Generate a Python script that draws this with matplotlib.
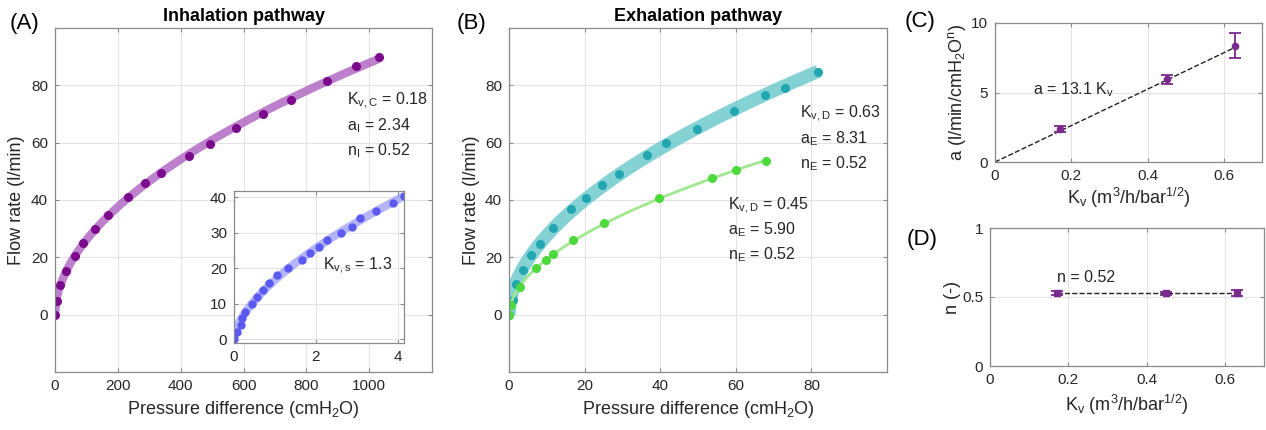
import matplotlib
matplotlib.use('Agg')
import matplotlib.pyplot as plt
import numpy as np

plt.rcParams['font.family'] = ['Liberation Sans', 'DejaVu Sans']
plt.rcParams['mathtext.fontset'] = 'custom'
plt.rcParams['mathtext.rm'] = 'Liberation Sans'
plt.rcParams['mathtext.it'] = 'Liberation Sans'
plt.rcParams['mathtext.default'] = 'regular'

# (A) inhalation pathway, pressure difference (cmH2O) vs flow rate (l/min)
inh_dp = np.array([0, 5, 16, 35, 63, 90, 128, 170, 232, 287, 336, 426, 492,
                   576, 661, 752, 866, 959, 1030])
inh_q = np.array([0, 4.9, 10.2, 15.1, 20.5, 25.0, 29.9, 34.8, 41.2, 45.8, 49.5,
                  55.4, 59.7, 65.0, 70.0, 75.0, 81.4, 86.8, 89.9])

# inset: Kv,s = 1.3
ins_dp = np.array([0, 0.07, 0.16, 0.2, 0.26, 0.45, 0.55, 0.71, 0.86, 1.06, 1.31,
                   1.66, 1.86, 2.07, 2.26, 2.6, 2.87, 3.08, 3.47, 3.87, 4.15])
ins_q = np.array([0, 2.0, 4.0, 5.9, 7.6, 10.0, 11.9, 13.9, 15.9, 18.1, 20.2,
                  22.3, 24.2, 26.0, 28.0, 29.9, 31.7, 34.0, 36.0, 38.2, 40.3])

# (B) exhalation pathway, Kv,D = 0.63
exh1_dp = np.array([0, 1.0, 1.9, 3.6, 5.9, 8.1, 11.7, 16.5, 20.4, 24.6, 29.1,
                    36.6, 41.6, 49.8, 59.5, 67.6, 73.1, 81.8])
exh1_q = np.array([0, 5.0, 10.8, 15.7, 20.9, 24.8, 30.4, 36.9, 40.8, 45.2, 48.9,
                   55.7, 59.9, 64.9, 71.2, 76.8, 79.1, 84.6])
# Kv,D = 0.45
exh2_dp = np.array([0, 0.6, 2.9, 7.1, 9.7, 11.7, 16.9, 25.2, 39.6, 53.6, 60.1, 68.1])
exh2_q = np.array([0, 3.4, 9.6, 16.2, 19.1, 21.2, 25.9, 31.9, 40.6, 47.7, 50.4, 53.5])

# (C), (D) fitted coefficients vs Kv
kv = np.array([0.17, 0.45, 0.63])
a_mean = np.array([2.37, 5.95, 8.38])
a_err = np.array([0.22, 0.33, 0.9])
a_slope = 13.1
n_mean = np.array([0.526, 0.526, 0.526])
n_err = np.array([0.014, 0.011, 0.022])


def power_fit(x, y):
    # least squares fit of y = a*x^n, grid over n, closed form for a
    best = None
    for n in np.linspace(0.3, 0.9, 601):
        p = x ** n
        a = (p * y).sum() / (p * p).sum()
        err = ((a * p - y) ** 2).sum()
        if best is None or err < best[0]:
            best = (err, a, n)
    return best[1], best[2]


def fit_curve(x, y):
    a, n = power_fit(x, y)
    xs = np.linspace(0, x.max(), 300)
    return xs, a * xs ** n


def style(ax):
    ax.grid(True, color='#e3e3e3', lw=0.8)
    ax.set_axisbelow(True)
    for s in ax.spines.values():
        s.set_color('#8a8a8a')
        s.set_linewidth(0.9)
    ax.tick_params(direction='in', length=3, color='#8a8a8a', labelcolor='#262626',
                   labelsize=11, top=True, right=True, pad=5)


W, H = 1266, 430
fig = plt.figure(figsize=(W / 100, H / 100), dpi=100)


def box(l, r, t, b):
    return [l / W, (H - b) / H, (r - l) / W, (b - t) / H]


txt = dict(fontsize=11.5, color='#262626', va='center')
lab = dict(fontsize=13, color='#262626')

# ---- (A)
axA = fig.add_axes(box(55, 432, 28, 372))
style(axA)
xs, ys = fit_curve(inh_dp, inh_q)
axA.plot(xs, ys, color='#a24bb8', lw=6, alpha=0.7, solid_capstyle='butt')
axA.plot(inh_dp, inh_q, 'o', color='#7c0a8c', ms=5.5)
axA.set_xlim(0, 1200)
axA.set_ylim(-20, 100)
axA.set_xticks(np.arange(0, 1001, 200))
axA.set_yticks(np.arange(0, 81, 20))
axA.set_xlabel('Pressure difference (cmH$_2$O)', **lab)
axA.set_ylabel('Flow rate (l/min)', labelpad=4, **lab)
axA.set_title('Inhalation pathway', fontsize=13, fontweight='bold', pad=5)
axA.text(928, 74.5, '$K_{v,C}$ = 0.18', **txt)
axA.text(928, 65.8, '$a_{I}$ = 2.34', **txt)
axA.text(928, 57.1, '$n_{I}$ = 0.52', **txt)
fig.text(10 / W, (H - 24) / H, '(A)', fontsize=16, va='center')

# inset
axI = fig.add_axes(box(234, 404, 191, 343))
style(axI)
axI.set_facecolor('white')
xs, ys = fit_curve(ins_dp, ins_q)
axI.plot(xs, ys, color='#8c8cf5', lw=6, alpha=0.65, solid_capstyle='butt')
axI.plot(ins_dp, ins_q, 'o', color='#5a5af0', ms=5)
axI.set_xlim(0, 4.15)
axI.set_ylim(-1, 41.7)
axI.set_xticks([0, 2, 4])
axI.set_yticks([0, 10, 20, 30, 40])
axI.text(2.17, 20.8, '$K_{v,s}$ = 1.3', **txt)

# ---- (B)
axB = fig.add_axes(box(509, 887, 28, 372))
style(axB)
xs, ys = fit_curve(exh1_dp, exh1_q)
axB.plot(xs, ys, color='#5cc4c8', lw=9.5, alpha=0.75, solid_capstyle='butt')
axB.plot(exh1_dp, exh1_q, 'o', color='#22a6b2', ms=5.5)
xs, ys = fit_curve(exh2_dp, exh2_q)
axB.plot(xs, ys, color='#9fe88f', lw=2)
axB.plot(exh2_dp, exh2_q, 'o', color='#4cd93c', ms=5.5)
axB.set_xlim(0, 100)
axB.set_ylim(-20, 100)
axB.set_xticks(np.arange(0, 81, 20))
axB.set_yticks(np.arange(0, 81, 20))
axB.set_xlabel('Pressure difference (cmH$_2$O)', **lab)
axB.set_ylabel('Flow rate (l/min)', labelpad=4, **lab)
axB.set_title('Exhalation pathway', fontsize=13, fontweight='bold', pad=5)
axB.text(77, 70, '$K_{v,D}$ = 0.63', **txt)
axB.text(77, 61.3, '$a_{E}$ = 8.31', **txt)
axB.text(77, 52.6, '$n_{E}$ = 0.52', **txt)
axB.text(58, 38, '$K_{v,D}$ = 0.45', **txt)
axB.text(58, 29.5, '$a_{E}$ = 5.90', **txt)
axB.text(58, 20.8, '$n_{E}$ = 0.52', **txt)
fig.text(457 / W, (H - 24) / H, '(B)', fontsize=16, va='center')

# ---- (C)
axC = fig.add_axes(box(995, 1262, 23, 162))
style(axC)
kx = np.array([0, kv.max()])
axC.plot(kx, a_slope * kx, '--', color='#222222', lw=1)
axC.errorbar(kv, a_mean, yerr=a_err, fmt='o', color='#7a2a8c', ms=4.5,
             capsize=4, elinewidth=1.3, capthick=1.3)
axC.set_xlim(0, 0.7)
axC.set_ylim(0, 10)
axC.set_xticks([0, 0.2, 0.4, 0.6])
axC.set_xticklabels(['0', '0.2', '0.4', '0.6'])
axC.set_yticks([0, 5, 10])
axC.set_xlabel('$K_v$ (m$^3$/h/bar$^{1/2}$)', labelpad=2, **lab)
axC.set_ylabel('a (l/min/cmH$_2$O$^n$)', labelpad=2, **lab)
axC.text(0.1, 5.2, 'a = 13.1 $K_v$', **txt)
fig.text(905 / W, (H - 21) / H, '(C)', fontsize=16, va='center')

# ---- (D)
axD = fig.add_axes(box(990, 1264, 228, 366))
style(axD)
axD.plot([kv.min(), kv.max()], [n_mean.mean()] * 2, '--', color='#222222', lw=1)
axD.errorbar(kv, n_mean, yerr=n_err, fmt='s', color='#7a2a8c', ms=4.5,
             capsize=4, elinewidth=1.3, capthick=1.3)
axD.set_xlim(0, 0.7)
axD.set_ylim(0, 1)
axD.set_xticks([0, 0.2, 0.4, 0.6])
axD.set_xticklabels(['0', '0.2', '0.4', '0.6'])
axD.set_yticks([0, 0.5, 1])
axD.set_yticklabels(['0', '0.5', '1'])
axD.set_xlabel('$K_v$ (m$^3$/h/bar$^{1/2}$)', labelpad=4, **lab)
axD.set_ylabel('n (-)', labelpad=1, **lab)
axD.text(0.17, 0.64, 'n = 0.52', **txt)
fig.text(907 / W, (H - 239) / H, '(D)', fontsize=16, va='center')

fig.savefig('out.png', dpi=100)
